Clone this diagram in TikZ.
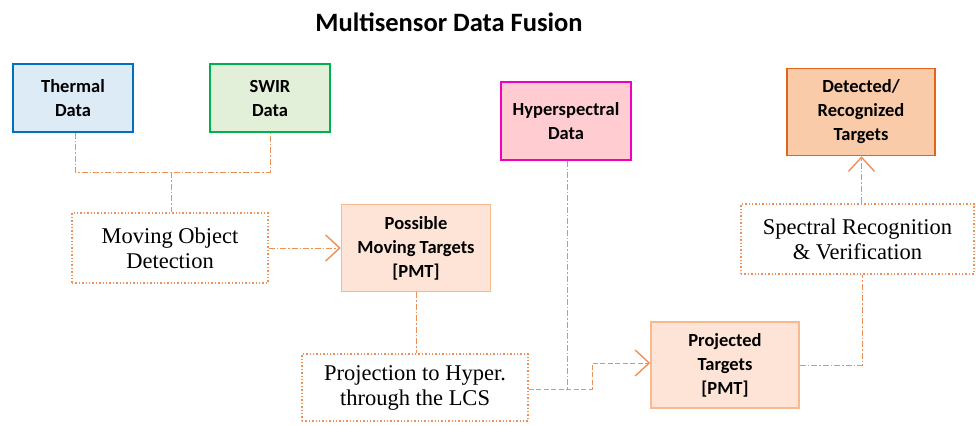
\documentclass[tikz,border=0pt]{standalone}
\usepackage{fontspec}
\setmainfont{Liberation Serif}
\newfontfamily\carl{Carlito}
\usetikzlibrary{arrows.meta}
\definecolor{lineor}{HTML}{EF9057}
\definecolor{pmtfill}{HTML}{FDE4D6}
\definecolor{pmtdraw}{HTML}{F8B98F}
\definecolor{thfill}{HTML}{DDEBF7}
\definecolor{thdraw}{HTML}{0070C0}
\definecolor{swfill}{HTML}{E2F0D9}
\definecolor{swdraw}{HTML}{00B050}
\definecolor{hyfill}{HTML}{FFCCD2}
\definecolor{hydraw}{HTML}{F000C0}
\definecolor{defill}{HTML}{F9CBA9}
\definecolor{dedraw}{HTML}{E0651A}
\tikzset{
  databox/.style={draw, line width=1.6pt, align=center, inner sep=0pt,
    font=\carl\bfseries\fontsize{18.5}{24}\selectfont},
  procbox/.style={draw=lineor, dotted, line width=1.4pt, align=center, inner sep=0pt,
    font=\fontsize{22.5}{25}\selectfont},
  dashdot/.style={draw=lineor, line width=1pt, dash pattern=on 6pt off 2pt on 1.5pt off 2pt},
  dashln/.style={draw=lineor, line width=1pt, dash pattern=on 5pt off 2.5pt},
  arr/.style={-{Straight Barb[length=14pt,width=26pt,line width=1.4pt]}},
}
\begin{document}
\begin{tikzpicture}[x=1pt,y=-1pt]
\useasboundingbox (0,0) rectangle (976,424);
\node[font=\carl\bfseries\fontsize{26.5}{30}\selectfont] (title) at (449,22) {Multisensor Data Fusion};
\node[databox, draw=thdraw, fill=thfill, minimum width=120pt, minimum height=68pt] (th) at (73,98) {Thermal\\Data};
\node[databox, draw=swdraw, fill=swfill, minimum width=120pt, minimum height=68pt] (sw) at (270,98) {SWIR\\Data};
\node[databox, draw=hydraw, fill=hyfill, minimum width=130pt, minimum height=78pt] (hy) at (566,121) {Hyperspectral\\Data};
\node[databox, draw=dedraw, fill=defill, minimum width=148pt, minimum height=87pt] (de) at (861,112) {Detected/\\Recognized\\Targets};
\node[databox, draw=pmtdraw, fill=pmtfill, minimum width=149pt, minimum height=87pt] (pm) at (416,248) {Possible\\Moving Targets\\{[PMT]}};
\node[databox, draw=pmtdraw, fill=pmtfill, minimum width=148pt, minimum height=86pt] (pt) at (725,365) {Projected\\Targets\\{[PMT]}};
\node[procbox, minimum width=196pt, minimum height=70pt] (mo) at (170,248) {Moving Object\\Detection};
\node[procbox, minimum width=226pt, minimum height=67pt] (pr) at (415,387.5) {Projection to Hyper.\\through the LCS};
\node[procbox, minimum width=233pt, minimum height=70pt] (sr) at (857.5,239) {Spectral Recognition\\\& Verification};
\coordinate (j) at (171,172);
\draw[dashdot] ([xshift=2pt]th.south) |- (j) -| (sw.south);
\draw[dashdot] (j) -- (j |- mo.north);
\draw[dashdot, arr] (mo.east) -- (pm.west);
\draw[dashdot] (pm.south) -- (pm.south |- pr.north);
\coordinate (hj) at (567,389);
\draw[dashdot] ([xshift=1pt]hy.south) -- (hj);
\draw[dashln, arr] (pr.east |- hj) -- (592,389) |- ([yshift=2pt]pt.west);
\draw[dashdot] (pt.east) -| ([xshift=5pt]sr.south);
\draw[dashdot, arr] ([xshift=4pt]sr.north) -- ([xshift=4pt]sr.north |- de.south);
\end{tikzpicture}
\end{document}
